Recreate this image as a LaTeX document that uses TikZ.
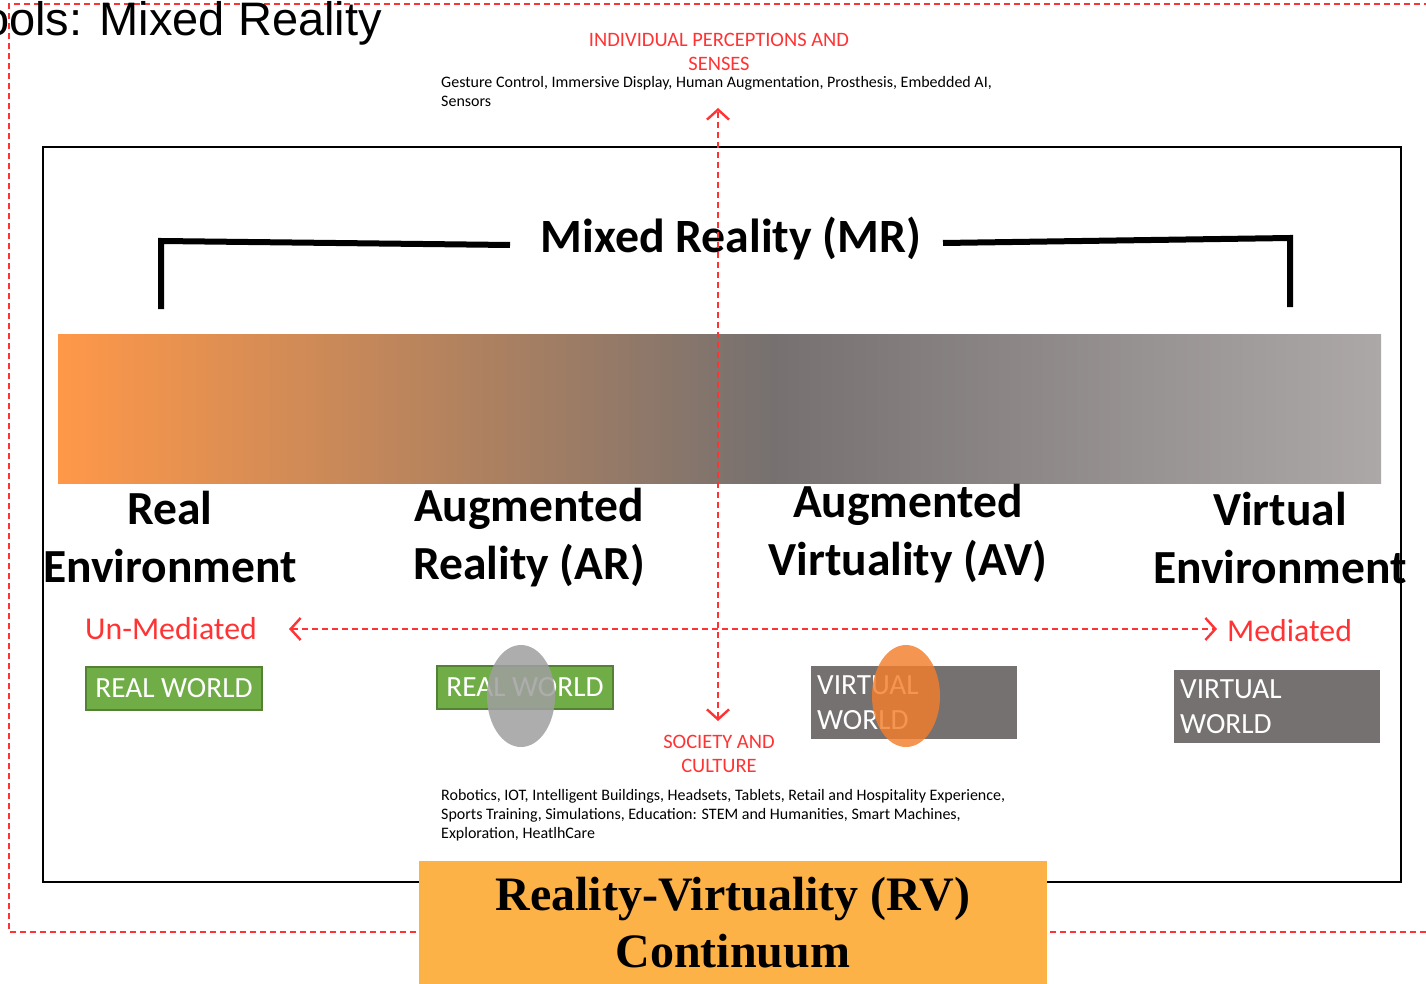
\documentclass[tikz,border=0pt]{standalone}
\usepackage{fontspec}
\setmainfont{Carlito}
\newfontfamily\arialf{Liberation Sans}
\newfontfamily\timesf{Liberation Serif}
\usetikzlibrary{arrows.meta,shapes.geometric}
\definecolor{redd}{HTML}{FF3333}
\definecolor{orangeA}{HTML}{FF9849}
\definecolor{midG}{HTML}{767170}
\definecolor{lightG}{HTML}{ACA8A7}
\definecolor{greenF}{HTML}{70AD47}
\definecolor{greenD}{HTML}{548235}
\definecolor{vgray}{HTML}{767171}
\definecolor{ellG}{HTML}{A09F9F}
\definecolor{ellO}{HTML}{F37E2C}
\definecolor{rvor}{HTML}{FDB247}
\tikzset{
  reddash/.style={draw=redd,line width=1.6,dash pattern=on 6 off 4},
  redarrow/.style={reddash,{Straight Barb[length=10,width=22,line width=2.4]}-{Straight Barb[length=10,width=22,line width=2.4]}},
  bigbold/.style={font=\bfseries\fontsize{47.5}{58}\selectfont,align=center,inner sep=0},
  redlab/.style={text=redd,font=\fontsize{31.8}{36}\selectfont,inner sep=0},
  redsmall/.style={text=redd,font=\fontsize{20.5}{24.5}\selectfont,align=center,inner sep=0},
  smalltxt/.style={font=\fontsize{16}{19}\selectfont,align=left,inner sep=0,anchor=north west},
  rwbox/.style={fill=greenF,draw=greenD,line width=2,text=white,font=\fontsize{29.3}{35}\selectfont,minimum width=176,minimum height=43,inner sep=0},
  vwbox/.style={fill=vgray,minimum width=206,minimum height=73,inner sep=0},
  vwtext/.style={anchor=west,text=white,font=\fontsize{29.3}{35}\selectfont,align=left,inner sep=0},
  bracket/.style={line width=6},
}
\begin{document}
\begin{tikzpicture}[x=1pt,y=-1pt]
\useasboundingbox (0,0) rectangle (1426,984);
% outer dashed frame
\draw[reddash] (1440,4) -- (9,4) -- (9,932) -- (1440,932);
% title
\node[anchor=base east,font=\arialf\fontsize{47}{50}\selectfont,inner sep=0] (title) at (382,36) {ools: Mixed Reality};
% black frame
\draw[line width=2.4] (43,147) rectangle (1401,882);
% MR title and bracket
\node[font=\bfseries\fontsize{47.8}{50}\selectfont,inner sep=0] (mr) at (731,239) {Mixed Reality (MR)};
\coordinate (bl1) at (161,309);
\coordinate (bl2) at (161,241);
\coordinate (bl3) at (510,245);
\coordinate (br1) at (943,243);
\coordinate (br2) at (1290,238);
\coordinate (br3) at (1290,307);
\draw[bracket] (bl1) -- (bl2) -- (bl3);
\draw[bracket] (br1) -- (br2) -- (br3);
% gradient bar
\shade[left color=orangeA,right color=midG] (58,334) rectangle (772,483);
\shade[left color=midG,right color=lightG] (771,334) rectangle (1381,483);
% category labels
\node[bigbold] (re) at (170,537) {Real\\Environment};
\node[bigbold] (ar) at (529,538) {Augmented\\Reality (AR)};
\node[bigbold] (av) at (908,534) {Augmented\\Virtuality (AV)};
\node[bigbold] (ve) at (1280,538) {Virtual\\Environment};
% mediated labels
\node[redlab] (um) at (171,629) {Un-Mediated};
\node[redlab,anchor=west] (med) at (1227,631) {Mediated};
% world boxes
\node[rwbox] (rw1) at (174,688.5) {REAL WORLD};
\node[rwbox] (rw2) at (525,687.5) {REAL WORLD};
\node[fill=ellG,opacity=0.85,ellipse,minimum width=68,minimum height=102,inner sep=0] (e1) at (521,696) {};
\node[vwbox] (vw1) at (914,702.5) {};
\node[vwtext] (vw1t) at (817,703) {VIRTUAL\\WORLD};
\node[fill=ellO,opacity=0.82,ellipse,minimum width=68,minimum height=102,inner sep=0] (e2) at (906,696) {};
\node[vwbox] (vw2) at (1277,706.5) {};
\node[vwtext] (vw2t) at (1180,707) {VIRTUAL\\WORLD};
% top & bottom texts
\node[redsmall] (ips) at (719,52) {INDIVIDUAL PERCEPTIONS AND\\SENSES};
\node[smalltxt] (gest) at (441,76) {Gesture Control, Immersive Display, Human Augmentation, Prosthesis, Embedded AI,\\Sensors};
\node[redsmall] (sc) at (719,754) {SOCIETY AND\\CULTURE};
\node[smalltxt] (rob) at (441,789) {Robotics, IOT, Intelligent Buildings, Headsets, Tablets, Retail and Hospitality Experience,\\Sports Training, Simulations, Education: STEM and Humanities, Smart Machines,\\Exploration, HeatlhCare};
% RV continuum box
\node[fill=rvor,minimum width=628,minimum height=123,inner sep=0,font=\timesf\bfseries\fontsize{48}{57}\selectfont,align=center] (rv) at (733,922.5) {Reality-Virtuality (RV)\\Continuum};
% arrows
\coordinate (vtop) at (718,108);
\coordinate (vbot) at (718,721);
\coordinate (hl) at (289,629);
\coordinate (hr) at (1217,629);
\draw[redarrow] (vbot) -- (vtop);
\draw[redarrow] (hl) -- (hr);
\end{tikzpicture}
\end{document}
